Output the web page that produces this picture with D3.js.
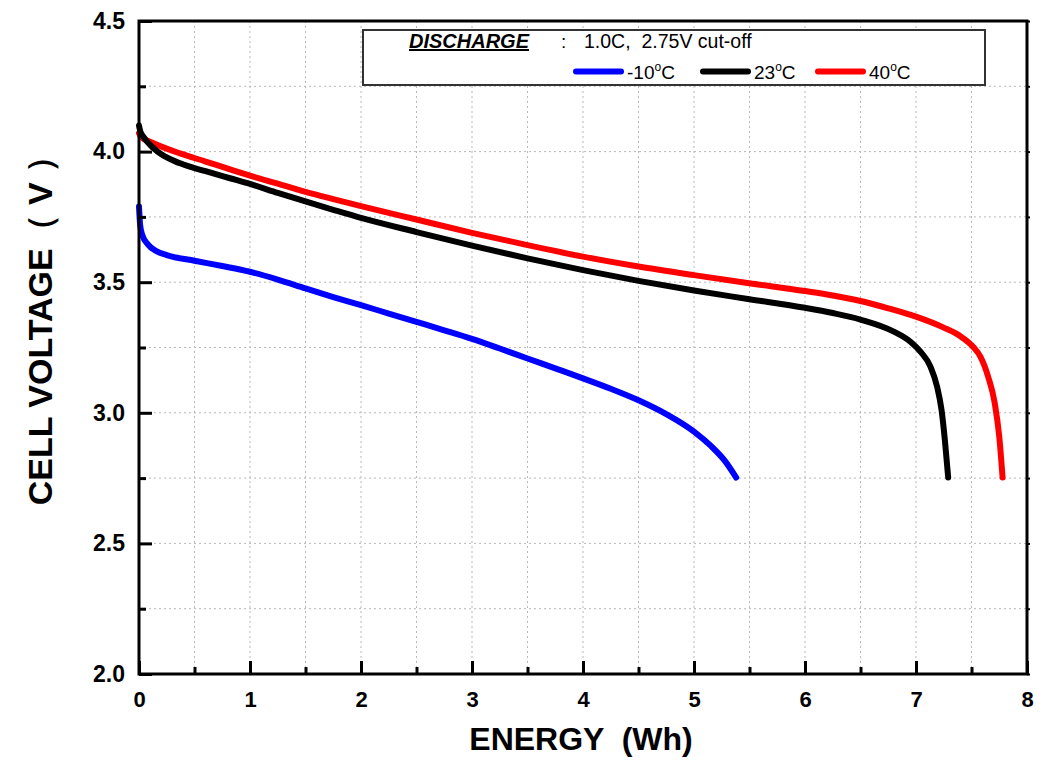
<!DOCTYPE html>
<html>
<head>
<meta charset="utf-8">
<script src="https://cdn.jsdelivr.net/npm/d3@7"></script>
<style>
  html, body { margin: 0; padding: 0; background: #fff; }
  svg { display: block; }
  text { font-family: "Liberation Sans", Arial, Helvetica, sans-serif; }
</style>
</head>
<body>
<svg id="chart" width="1048" height="760"></svg>
<script>
// ---------- data ----------
const seriesNames = ["-10", "23", "40"];
const seriesColors = ["#0000ff", "#000000", "#ff0000"];

const energyM10 = [0, 0.01, 0.03, 0.08, 0.15, 0.25, 0.5, 0.75, 1.0, 1.25, 1.5, 1.75, 2.0, 2.25, 2.5, 2.75, 3.0, 3.25, 3.5, 3.75, 4.0, 4.25, 4.5, 4.75, 5.0, 5.15, 5.28, 5.38];
const voltM10   = [3.79, 3.72, 3.68, 3.645, 3.62, 3.604, 3.582, 3.562, 3.540, 3.510, 3.476, 3.443, 3.412, 3.380, 3.348, 3.316, 3.283, 3.246, 3.208, 3.170, 3.132, 3.092, 3.048, 2.995, 2.928, 2.874, 2.815, 2.752];

const energy23 = [0, 0.01, 0.04, 0.13, 0.37, 0.6, 0.82, 1.0, 1.25, 1.5, 1.75, 2.0, 2.5, 3.0, 3.5, 4.0, 4.5, 5.0, 5.5, 6.0, 6.25, 6.5, 6.8, 6.95, 7.04, 7.13, 7.19, 7.23, 7.26, 7.29];
const volt23   = [4.10, 4.08, 4.057, 4.013, 3.955, 3.925, 3.898, 3.876, 3.842, 3.809, 3.777, 3.746, 3.692, 3.640, 3.591, 3.546, 3.505, 3.468, 3.435, 3.402, 3.382, 3.357, 3.311, 3.272, 3.234, 3.177, 3.10, 3.011, 2.896, 2.752];

const energy40 = [0, 0.02, 0.1, 0.37, 0.6, 0.82, 1.0, 1.25, 1.5, 1.75, 2.0, 2.5, 3.0, 3.5, 4.0, 4.5, 5.0, 5.5, 6.0, 6.25, 6.5, 6.75, 7.0, 7.25, 7.4, 7.52, 7.58, 7.65, 7.71, 7.75, 7.78];
const volt40   = [4.07, 4.055, 4.038, 3.993, 3.962, 3.932, 3.908, 3.877, 3.846, 3.818, 3.791, 3.740, 3.689, 3.642, 3.598, 3.560, 3.527, 3.496, 3.466, 3.449, 3.428, 3.400, 3.368, 3.326, 3.293, 3.250, 3.215, 3.138, 3.036, 2.909, 2.752];

const xMajorTicks = [0, 1, 2, 3, 4, 5, 6, 7, 8];
const xMinorTicks = [0.5, 1.5, 2.5, 3.5, 4.5, 5.5, 6.5, 7.5];
const yMajorTicks = [2.0, 2.5, 3.0, 3.5, 4.0, 4.5];
const yMinorTicks = [2.25, 2.75, 3.25, 3.75, 4.25];
const xGrid = [0.5, 1, 1.5, 2, 2.5, 3, 3.5, 4, 4.5, 5, 5.5, 6, 6.5, 7, 7.5];
const yGrid = [2.25, 2.5, 2.75, 3.0, 3.25, 3.5, 3.75, 4.0, 4.25];

const xTitle = "ENERGY  (Wh)";
const yTitle = "CELL VOLTAGE（ V ）";
const legendTitle = "DISCHARGE";
const legendNote = "1.0C,  2.75V cut-off";

// ---------- layout ----------
const W = 1048, H = 760;
const margin = { top: 21, right: 21, bottom: 86, left: 139 };
const iw = W - margin.left - margin.right;
const ih = H - margin.top - margin.bottom;

const svg = d3.select("#chart");
const g = svg.append("g").attr("transform", `translate(${margin.left},${margin.top})`);

const x = d3.scaleLinear().domain([0, 8]).range([0, iw]);
const y = d3.scaleLinear().domain([2, 4.5]).range([ih, 0]);

// grid
g.append("g").selectAll("line").data(xGrid).join("line")
  .attr("x1", d => x(d)).attr("x2", d => x(d)).attr("y1", 0).attr("y2", ih)
  .attr("stroke", "#b8b8b8").attr("stroke-width", 1).attr("stroke-dasharray", "2,3");
g.append("g").selectAll("line").data(yGrid).join("line")
  .attr("y1", d => y(d)).attr("y2", d => y(d)).attr("x1", 0).attr("x2", iw)
  .attr("stroke", "#b8b8b8").attr("stroke-width", 1).attr("stroke-dasharray", "2,3");

// curves
const line = d3.line().x(d => x(d[0])).y(d => y(d[1])).curve(d3.curveMonotoneX);
const series = [
  { e: energyM10, v: voltM10, c: seriesColors[0] },
  { e: energy40, v: volt40, c: seriesColors[2] },
  { e: energy23, v: volt23, c: seriesColors[1] }
];
series.forEach(s => {
  g.append("path")
    .datum(s.e.map((e, i) => [e, s.v[i]]))
    .attr("d", line)
    .attr("fill", "none")
    .attr("stroke", s.c)
    .attr("stroke-width", 6)
    .attr("stroke-linecap", "round")
    .attr("stroke-linejoin", "round");
});

// axes
function styleAxis(sel) {
  sel.select(".domain").remove();
  sel.selectAll(".tick line").attr("stroke", "#000").attr("stroke-width", 3);
  sel.selectAll(".tick text").attr("fill", "#000").attr("font-weight", "bold")
    .style("font-family", '"Liberation Sans", Arial, sans-serif');
}

const xAxis = g.append("g").attr("transform", `translate(0,${ih})`)
  .call(d3.axisBottom(x).tickValues(xMajorTicks).tickSize(-13).tickPadding(17).tickFormat(d3.format("d")));
styleAxis(xAxis);
xAxis.selectAll(".tick text").attr("font-size", 22);

const xMinor = g.append("g").attr("transform", `translate(0,${ih})`)
  .call(d3.axisBottom(x).tickValues(xMinorTicks).tickSize(-7).tickFormat(""));
styleAxis(xMinor);

const yAxis = g.append("g")
  .call(d3.axisLeft(y).tickValues(yMajorTicks).tickSize(-13).tickPadding(14).tickFormat(d3.format(".1f")));
styleAxis(yAxis);
yAxis.selectAll(".tick text").attr("font-size", 23);

const yMinor = g.append("g")
  .call(d3.axisLeft(y).tickValues(yMinorTicks).tickSize(-7).tickFormat(""));
styleAxis(yMinor);

const yRight = g.append("g").attr("transform", `translate(${iw},0)`)
  .call(d3.axisRight(y).tickValues(yGrid.concat([2.0, 4.5])).tickSize(3).tickFormat(""));
styleAxis(yRight);
yRight.selectAll(".tick line").attr("stroke-width", 2);

// frame
g.append("rect").attr("x", 0).attr("y", 0).attr("width", iw).attr("height", ih)
  .attr("fill", "none").attr("stroke", "#000").attr("stroke-width", 3);

// axis titles
svg.append("text")
  .attr("x", margin.left + iw / 2 - 2).attr("y", 750)
  .attr("text-anchor", "middle").attr("font-size", 32).attr("font-weight", "bold")
  .style("white-space", "pre")
  .text(xTitle);

svg.append("text")
  .attr("transform", `translate(52,${322}) rotate(-90)`)
  .attr("text-anchor", "middle").attr("font-size", 34).attr("font-weight", "bold")
  .text(yTitle);

// legend
const lg = svg.append("g");
lg.append("rect").attr("x", 363).attr("y", 30).attr("width", 622).attr("height", 55)
  .attr("fill", "#fff").attr("stroke", "#333").attr("stroke-width", 2);

lg.append("text").attr("x", 409).attr("y", 48)
  .attr("font-size", 20).attr("font-weight", "bold").attr("font-style", "italic")
  .attr("text-decoration", "underline")
  .text(legendTitle);
lg.append("text").attr("x", 561).attr("y", 48).attr("font-size", 19).text(":");
lg.append("text").attr("x", 584).attr("y", 48).attr("font-size", 19.5)
  .style("white-space", "pre").text(legendNote);

const legendX = [576, 703, 818];
seriesNames.forEach((name, i) => {
  const x0 = legendX[i];
  lg.append("line").attr("x1", x0).attr("x2", x0 + 45).attr("y1", 71.5).attr("y2", 71.5)
    .attr("stroke", seriesColors[i]).attr("stroke-width", 6).attr("stroke-linecap", "round");
  const t = lg.append("text").attr("x", x0 + 51).attr("y", 79).attr("font-size", 19);
  t.append("tspan").text(name);
  t.append("tspan").attr("font-size", 12).attr("dy", -8).text("o");
  t.append("tspan").attr("dy", 8).text("C");
});
</script>
</body>
</html>
